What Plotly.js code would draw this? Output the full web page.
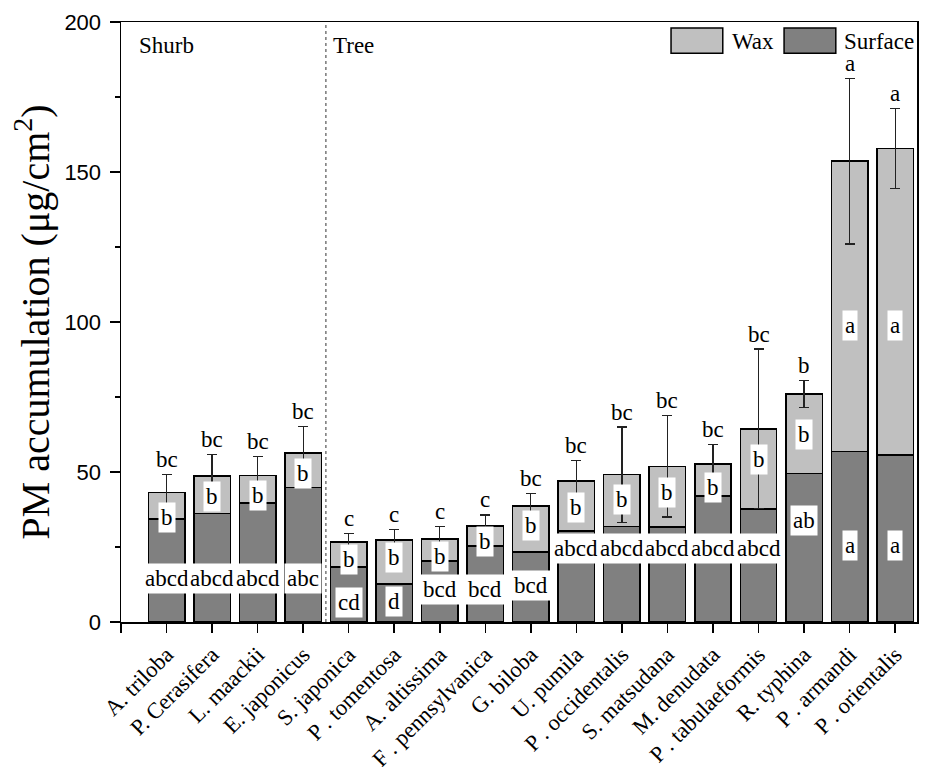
<!DOCTYPE html>
<html>
<head>
<meta charset="utf-8">
<script src="https://cdn.plot.ly/plotly-3.0.1.min.js"></script>
<style>html,body{margin:0;padding:0;background:#fff;}#chart{width:931px;height:767px;}</style>
</head>
<body>
<div id="chart"></div>
<script>
// ---- data ----
var species = ["A. triloba","P. Cerasifera","L. maackii","E. japonicus","S. japonica","P . tomentosa","A. altissima","F . pennsylvanica","G. biloba","U. pumila","P . occidentalis","S. matsudana","M. denudata","P . tabulaeformis","R. typhina","P . armandi","P . orientalis"];
var surface = [34.3,36.1,39.6,44.8,18.4,12.6,20.4,25.3,23.3,30.4,31.9,31.7,42.0,37.7,49.5,56.9,55.6];
var total   = [43.1,48.6,48.8,56.4,26.6,27.4,27.7,32.0,38.7,47.0,49.1,51.9,52.6,64.4,76.0,153.6,157.8];
var totalErr= [6.1,7.2,6.3,8.9,2.8,3.4,4.1,3.7,4.2,6.9,15.9,16.9,6.5,26.6,4.6,27.6,13.4];
var topLetters  = ["bc","bc","bc","bc","c","c","c","c","bc","bc","bc","bc","bc","bc","b","a","a"];
var waxLetters  = ["b","b","b","b","b","b","b","b","b","b","b","b","b","b","b","a","a"];
var surfLetters = ["abcd","abcd","abcd","abc","cd","d","bcd","bcd","bcd","abcd","abcd","abcd","abcd","abcd","ab","a","a"];
// label heights (data units) as placed in the reference
var waxLabelY  = [35,41.8,42.3,49.5,20.7,21.5,21.8,26.8,32.3,38.2,41,43.2,44.8,54.3,62.5,99,99];
var surfLabelY = [14.4,14.4,14.4,14.4,6.6,6.7,10.8,10.9,12.2,24.6,24.6,24.6,24.6,24.6,33.8,25.4,25.4];
var groupLabels = ["Shurb","Tree"];
var seriesNames = ["Wax","Surface"];

// ---- derived ----
var xs = species.map(function(_, i){ return i + 1; });
var wax = total.map(function(t, i){ return +(t - surface[i]).toFixed(2); });

var serif = "Liberation Serif";
var sans = "Liberation Sans";

var traces = [
  {type:"bar", x:xs, y:surface, name:seriesNames[1], width:0.8,
   marker:{color:"#808080", line:{color:"#000", width:1.5}}},
  {type:"bar", x:xs, y:wax, name:seriesNames[0], width:0.8,
   marker:{color:"#c0c0c0", line:{color:"#000", width:1.5}},
   error_y:{type:"data", array:totalErr, visible:true, color:"#222", thickness:1.2, width:5}}
];

var ann = [];
xs.forEach(function(x, i){
  ann.push({x:x, y:total[i]+totalErr[i]+5, xref:"x", yref:"y", text:topLetters[i], showarrow:false,
            font:{family:serif, size:23, color:"#000"}, yanchor:"middle"});
  ann.push({x:x, y:waxLabelY[i], xref:"x", yref:"y", text:waxLetters[i], showarrow:false,
            font:{family:serif, size:23, color:"#000"}, bgcolor:"#fff", borderpad:2, yanchor:"middle"});
  ann.push({x:x, y:surfLabelY[i], xref:"x", yref:"y", text:surfLetters[i], showarrow:false,
            font:{family:serif, size:23, color:"#000"}, bgcolor:"#fff", borderpad:2, yanchor:"middle"});
});
ann.push({x:0.35, y:192.3, xref:"x", yref:"y", text:groupLabels[0], showarrow:false, xanchor:"left", yanchor:"middle",
          font:{family:serif, size:23, color:"#000"}});
ann.push({x:4.62, y:192.3, xref:"x", yref:"y", text:groupLabels[1], showarrow:false, xanchor:"left", yanchor:"middle",
          font:{family:serif, size:23, color:"#000"}});
ann.push({x:0.765, y:0.968, xref:"paper", yref:"paper", text:seriesNames[0], showarrow:false, xanchor:"left", yanchor:"middle",
          font:{family:serif, size:23, color:"#000"}});
ann.push({x:0.906, y:0.968, xref:"paper", yref:"paper", text:seriesNames[1], showarrow:false, xanchor:"left", yanchor:"middle",
          font:{family:serif, size:23, color:"#000"}});

var shapes = [
  {type:"line", xref:"x", yref:"paper", x0:4.5, x1:4.5, y0:0, y1:1,
   line:{color:"#333", width:1, dash:"3px,3px"}},
  {type:"rect", xref:"paper", yref:"paper", x0:0.691, x1:0.756, y0:0.948, y1:0.99,
   fillcolor:"#c0c0c0", line:{color:"#000", width:1.5}},
  {type:"rect", xref:"paper", yref:"paper", x0:0.833, x1:0.898, y0:0.948, y1:0.99,
   fillcolor:"#808080", line:{color:"#000", width:1.5}}
];

var tickvals = [0].concat(xs);
var ticktext = [""].concat(species);

var layout = {
  width:931, height:767,
  margin:{l:121, r:14, t:22, b:145},
  paper_bgcolor:"#fff", plot_bgcolor:"#fff",
  barmode:"stack", showlegend:false,
  xaxis:{type:"linear", range:[0,17.48], tickmode:"array", tickvals:tickvals, ticktext:ticktext,
         tickangle:-45, ticks:"outside", ticklen:9, tickwidth:1.5, tickcolor:"#000",
         showline:true, linecolor:"#000", linewidth:1.5, mirror:true, showgrid:false, zeroline:false,
         tickfont:{family:serif, size:22.5, color:"#000"}},
  yaxis:{range:[0,200], tickmode:"array", tickvals:[0,50,100,150,200],
         ticks:"outside", ticklen:10, tickwidth:1.5, tickcolor:"#000", ticklabelstandoff:4,
         minor:{tickvals:[25,75,125,175], ticks:"outside", ticklen:5, tickwidth:1.5, tickcolor:"#000", showgrid:false},
         showline:true, linecolor:"#000", linewidth:1.5, mirror:true, showgrid:false, zeroline:false,
         tickfont:{family:sans, size:22, color:"#000"},
         title:{text:"PM accumulation (\u03bcg/cm<sup>2</sup>)", font:{family:serif, size:40, color:"#000"}, standoff:2}},
  annotations:ann,
  shapes:shapes
};

Plotly.newPlot("chart", traces, layout, {displayModeBar:false, staticPlot:true});
</script>
</body>
</html>
